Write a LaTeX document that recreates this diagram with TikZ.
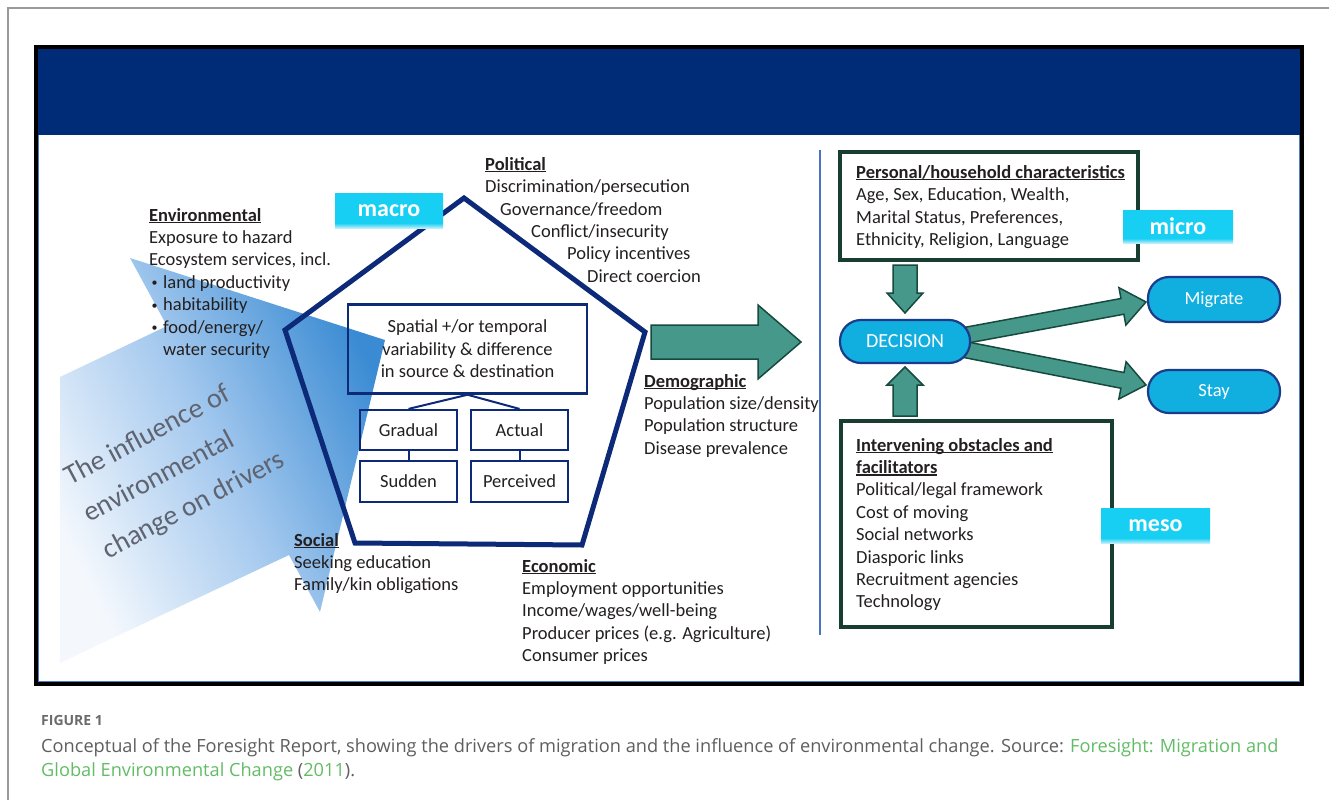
\documentclass[tikz,border=0pt]{standalone}
\usepackage{fontspec}
\setmainfont{Carlito}
\newfontfamily\capfont{Open Sans}
\usetikzlibrary{calc}

\definecolor{ink}{HTML}{231F20}
\definecolor{navyhdr}{HTML}{002C77}
\definecolor{pentblue}{HTML}{0D2A78}
\definecolor{framegray}{HTML}{9A9A9A}
\definecolor{frameblue}{HTML}{4F7BC8}
\definecolor{divblue}{HTML}{4A72C0}
\definecolor{envlight}{HTML}{F4F8FD}
\definecolor{envmid}{HTML}{A3C8EE}
\definecolor{envdeep}{HTML}{3A8BD3}
\definecolor{inflgray}{HTML}{5F6470}
\definecolor{teal}{HTML}{46998A}
\definecolor{tealdark}{HTML}{164A3E}
\definecolor{boxgreen}{HTML}{183D31}
\definecolor{pillfill}{HTML}{11AFE0}
\definecolor{pillline}{HTML}{1B3B8B}
\definecolor{labcyan}{HTML}{17CFF3}
\definecolor{labpale}{HTML}{BDEFFB}
\definecolor{capgray}{HTML}{6B6B6B}
\definecolor{captext}{HTML}{5E5E5E}
\definecolor{capgreen}{HTML}{62BC66}

% white-to-blue wash of the environmental-change arrow
\pgfdeclarehorizontalshading{envfade}{100bp}{color(0bp)=(envlight); color(25bp)=(envlight); color(50bp)=(envmid); color(75bp)=(envdeep); color(100bp)=(envdeep)}
% level tags: solid cyan with a soft lower edge
\pgfdeclareverticalshading{labfade}{100bp}{color(0bp)=(labpale); color(25bp)=(labpale); color(32bp)=(labcyan); color(100bp)=(labcyan)}

% bold heading with a rule just under the baseline
\newcommand{\hdr}[1]{\setbox0=\hbox{\bfseries #1}\rlap{\rule[-2pt]{\wd0}{1.1pt}}\box0}
% small list bullet
\newcommand{\itm}{\makebox[14pt][l]{\hspace{2.5pt}\raisebox{1.5pt}{\fontsize{12}{12}\selectfont •}}}

% block arrow: style, start, tip, shaft half-width, head half-width, head length
\newcommand{\tealarrowpath}[6]{%
  \coordinate (ba-h) at ($(#3)!#6!(#2)$);
  \draw[#1] ($(#2)!#4!90:(#3)$) -- ($(ba-h)!#4!90:(#3)$) -- ($(ba-h)!#5!90:(#3)$)
    -- (#3) -- ($(ba-h)!#5!-90:(#3)$) -- ($(ba-h)!#4!-90:(#3)$) -- ($(#2)!#4!-90:(#3)$) -- cycle;}

\begin{document}
\begin{tikzpicture}[x=1pt,y=-1pt,
  body/.style={inner sep=0pt, anchor=north west, align=left, text=ink, font=\fontsize{18.5}{22.4}\selectfont},
  smallbox/.style={draw=pentblue, line width=2.2pt, minimum width=97pt, minimum height=40pt, inner sep=0pt, text=ink, font=\fontsize{18.5}{22}\selectfont},
  pill/.style={draw=pillline, fill=pillfill, line width=2.2pt, rounded corners=21pt, text=white, inner sep=0pt, font=\fontsize{18.5}{22}\selectfont},
  level/.style={shade, shading=labfade, inner sep=0pt, text=white, font=\bfseries\fontsize{24}{28}\selectfont},
  framebox/.style={draw=boxgreen, line width=3.5pt, inner sep=0pt},
  tealarrow/.style={fill=teal, draw=tealdark, line width=1.5pt, line join=miter},
  inflc/.style={rotate=28, anchor=base west, inner sep=0pt, text=inflgray, font=\fontsize{28}{30}\selectfont},
]
\useasboundingbox (0,0) rectangle (1329,800);

% page rule and figure frame
\draw[framegray, line width=1.5pt] (8,800) -- (8,8) -- (1329,8);
\draw[black, line width=4pt] (36,47) rectangle (1302,684);
\fill[navyhdr] (38,49) rectangle (1300,135);
\draw[frameblue, line width=1.2pt] (38.6,135) -- (38.6,681.4) -- (1299.4,681.4) -- (1299.4,135);

% divider between macro drivers and the decision side
\draw[divblue, line width=1.5pt] (820,150) -- (820,635);

% environmental-change arrow
\shade[shading=envfade, shading angle=27]
  (60,663) -- (289,555) -- (320,612) -- (385,340) -- (130,258) -- (167,326) -- (60,377) -- cycle;
\node[inflc] (inf1) at (70,486) {The influence of};
\node[inflc] (inf2) at (89.5,523) {environmental};
\node[inflc] (inf3) at (108.5,559.5) {change on drivers};

% driver pentagon
\draw[pentblue, line width=5pt, line join=miter]
  (464,198) -- (645,332) -- (582,545) -- (355,543) -- (285,330) -- cycle;

\node[draw=pentblue, line width=2.5pt, minimum width=239pt, minimum height=89pt, inner sep=0pt,
      align=center, text=ink, font=\fontsize{18.5}{22.4}\selectfont] (spat) at (467.5,349)
  {Spatial +/or temporal\\variability \& difference\\in source \& destination};
\node[smallbox] (grad) at (408.5,430) {Gradual};
\node[smallbox] (act) at (519.5,430) {Actual};
\node[smallbox, minimum height=41pt] (sud) at (408.5,481.5) {Sudden};
\node[smallbox, minimum height=41pt] (perc) at (519.5,481.5) {Perceived};
\draw[pentblue, line width=2pt] (spat.south) -- (grad.north);
\draw[pentblue, line width=2pt] (spat.south) -- (act.north);
\draw[pentblue, line width=2pt] (grad.south) -- (sud.north);
\draw[pentblue, line width=2pt] (act.south) -- (perc.north);

% driver groups
\node[body] (env) at (149,208) {\hdr{Environmental}\\Exposure to hazard\\Ecosystem services, incl.\\
  \itm land productivity\\\itm habitability\\\itm food/energy/\\\hspace*{14pt}water security};
\node[body] (pol) at (485,157) {\hdr{Political}\\Discrimination/persecution\\\hspace*{15pt}Governance/freedom\\
  \hspace*{46pt}Conflict/insecurity\\\hspace*{82pt}Policy incentives\\\hspace*{102pt}Direct coercion};
\node[body] (dem) at (644,374) {\hdr{Demographic}\\Population size/density\\Population structure\\Disease prevalence};
\node[body] (soc) at (294,533) {\hdr{Social}\\Seeking education\\Family/kin obligations};
\node[body] (eco) at (522,559) {\hdr{Economic}\\Employment opportunities\\Income/wages/well-being\\
  Producer prices (e.g. Agriculture)\\Consumer prices};

% drivers feed the decision
\coordinate (g0) at (651,342);
\coordinate (g1) at (801,342);
\tealarrowpath{tealarrow}{g0}{g1}{17pt}{37pt}{43pt}

% individual level
\node[framebox, minimum width=298pt, minimum height=108pt] (pers) at (989,206) {};
\node[body] (perstxt) at (856,165) {\hdr{Personal/household characteristics}\\Age, Sex, Education, Wealth,\\
  Marital Status, Preferences,\\Ethnicity, Religion, Language};
\node[framebox, minimum width=271pt, minimum height=206pt] (intv) at (976.5,524) {};
\node[body] (intvtxt) at (856,438) {\hdr{Intervening obstacles and}\\\hdr{facilitators}\\Political/legal framework\\
  Cost of moving\\Social networks\\Diasporic links\\Recruitment agencies\\Technology};

\coordinate (pd0) at (905,265);
\coordinate (pd1) at (905,313);
\tealarrowpath{tealarrow}{pd0}{pd1}{12pt}{18pt}{20pt}
\coordinate (iu0) at (905,416);
\coordinate (iu1) at (905,367);
\tealarrowpath{tealarrow}{iu0}{iu1}{12pt}{18pt}{18pt}
\coordinate (dm0) at (962,336);
\coordinate (dm1) at (1146,302);
\tealarrowpath{tealarrow}{dm0}{dm1}{8pt}{19pt}{24pt}
\coordinate (ds0) at (962,349);
\coordinate (ds1) at (1146,385);
\tealarrowpath{tealarrow}{ds0}{ds1}{8pt}{19pt}{24pt}

\node[pill, minimum width=130pt, minimum height=43pt, font=\fontsize{20}{22}\selectfont] (dec) at (905,341.5) {DECISION};
\node[pill, minimum width=132pt, minimum height=45pt] (mig) at (1214,299.5) {Migrate};
\node[pill, minimum width=132pt, minimum height=43pt] (stay) at (1214,391.5) {Stay};

% level tags
\node[level, minimum width=108pt, minimum height=35pt] (macro) at (389,210.5) {macro};
\node[level, minimum width=110pt, minimum height=33pt] (micro) at (1178,226.5) {micro};
\node[level, minimum width=109pt, minimum height=35pt] (meso) at (1155.5,525.5) {meso};

% caption
\node[anchor=base west, inner sep=0pt, font=\capfont\bfseries\fontsize{14}{16}\selectfont, text=capgray] (figlbl) at (41,725) {FIGURE 1};
\node[anchor=base west, inner sep=0pt, font=\capfont\fontsize{18.2}{24}\selectfont, text=captext] (cap1) at (41,752)
  {Conceptual of the Foresight Report, showing the drivers of migration and the influence of environmental change. Source: \textcolor{capgreen}{Foresight: Migration and}};
\node[anchor=base west, inner sep=0pt, font=\capfont\fontsize{18.2}{24}\selectfont, text=captext] (cap2) at (41,776)
  {\textcolor{capgreen}{Global Environmental Change} (\textcolor{capgreen}{2011}).};
\end{tikzpicture}
\end{document}
